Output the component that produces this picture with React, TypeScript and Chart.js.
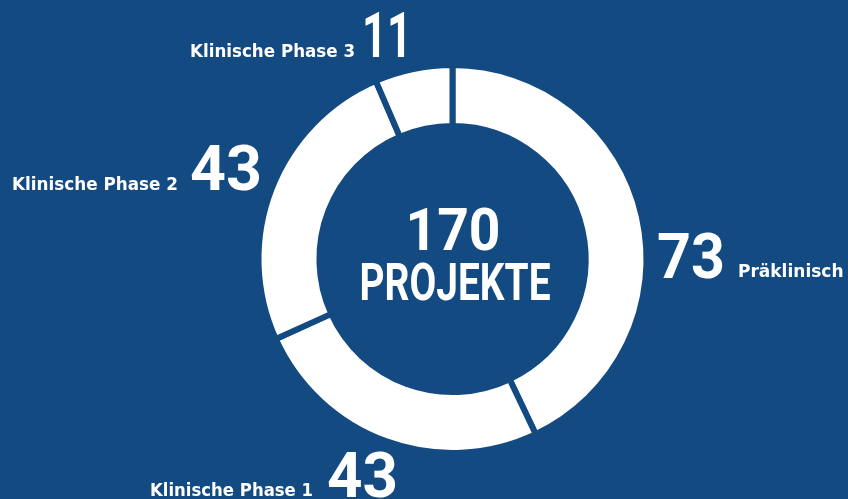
import React, { useEffect, useRef } from "react";
import { Chart, registerables } from "chart.js";

Chart.register(...registerables);

const categories = ["Präklinisch", "Klinische Phase 1", "Klinische Phase 2", "Klinische Phase 3"];
const values = [73, 43, 43, 11];
const totalLabel = "PROJEKTE";

const BG = "#134A81";
const FONT = "Roboto, 'DejaVu Sans', sans-serif";
const LFONT = "'DejaVu Sans', sans-serif";

const labelPlugin = {
  id: "labels",
  afterDraw(chart: any) {
    const ctx = chart.ctx as CanvasRenderingContext2D;
    const total = values.reduce((a, b) => a + b, 0);
    ctx.save();
    ctx.fillStyle = "#ffffff";
    ctx.textBaseline = "alphabetic";

    const big = (t: string, x: number, y: number, align: CanvasTextAlign, w: number) => {
      ctx.font = `700 63px ${FONT}`;
      ctx.textAlign = align;
      ctx.fillText(t, x, y, w);
    };
    const small = (t: string, x: number, y: number, align: CanvasTextAlign, w: number) => {
      ctx.font = `700 17px ${LFONT}`;
      ctx.textAlign = align;
      ctx.fillText(t, x, y, w);
    };

    // Präklinisch
    big(String(values[0]), 657, 278, "left", 68);
    small(categories[0], 738, 277, "left", 107);
    // Phase 1
    small(categories[1], 313, 496, "right", 163);
    big(String(values[1]), 327, 497, "left", 71);
    // Phase 2
    small(categories[2], 178, 190, "right", 166);
    big(String(values[2]), 190, 190, "left", 72);
    // Phase 3
    small(categories[3], 355, 57, "right", 165);
    big(String(values[3]), 362, 57, "left", 50);

    // center
    ctx.textAlign = "center";
    ctx.font = `700 60px ${FONT}`;
    ctx.fillText(String(total), 453, 250, 95);
    ctx.font = `700 52px ${FONT}`;
    ctx.fillText(totalLabel, 455, 300, 191);
    ctx.restore();
  },
};

export default function App() {
  const ref = useRef<HTMLCanvasElement>(null);
  useEffect(() => {
    document.body.style.margin = "0";
    const chart = new Chart(ref.current!, {
      type: "doughnut",
      data: {
        labels: categories,
        datasets: [
          {
            data: values,
            backgroundColor: "#ffffff",
            borderColor: BG,
            borderWidth: 6,
            hoverOffset: 0,
          },
        ],
      },
      options: {
        animation: false,
        responsive: false,
        cutout: "68.6%",
        rotation: 0,
        layout: { padding: { left: 255.5, right: 198.5, top: 62, bottom: 43 } },
        plugins: { legend: { display: false }, tooltip: { enabled: false } },
      },
      plugins: [labelPlugin],
    });
    return () => chart.destroy();
  }, []);
  return (
    <div style={{ position: "fixed", left: 0, top: 0, width: 848, height: 499, background: BG }}>
      <canvas ref={ref} width={848} height={499} style={{ display: "block" }} />
    </div>
  );
}
